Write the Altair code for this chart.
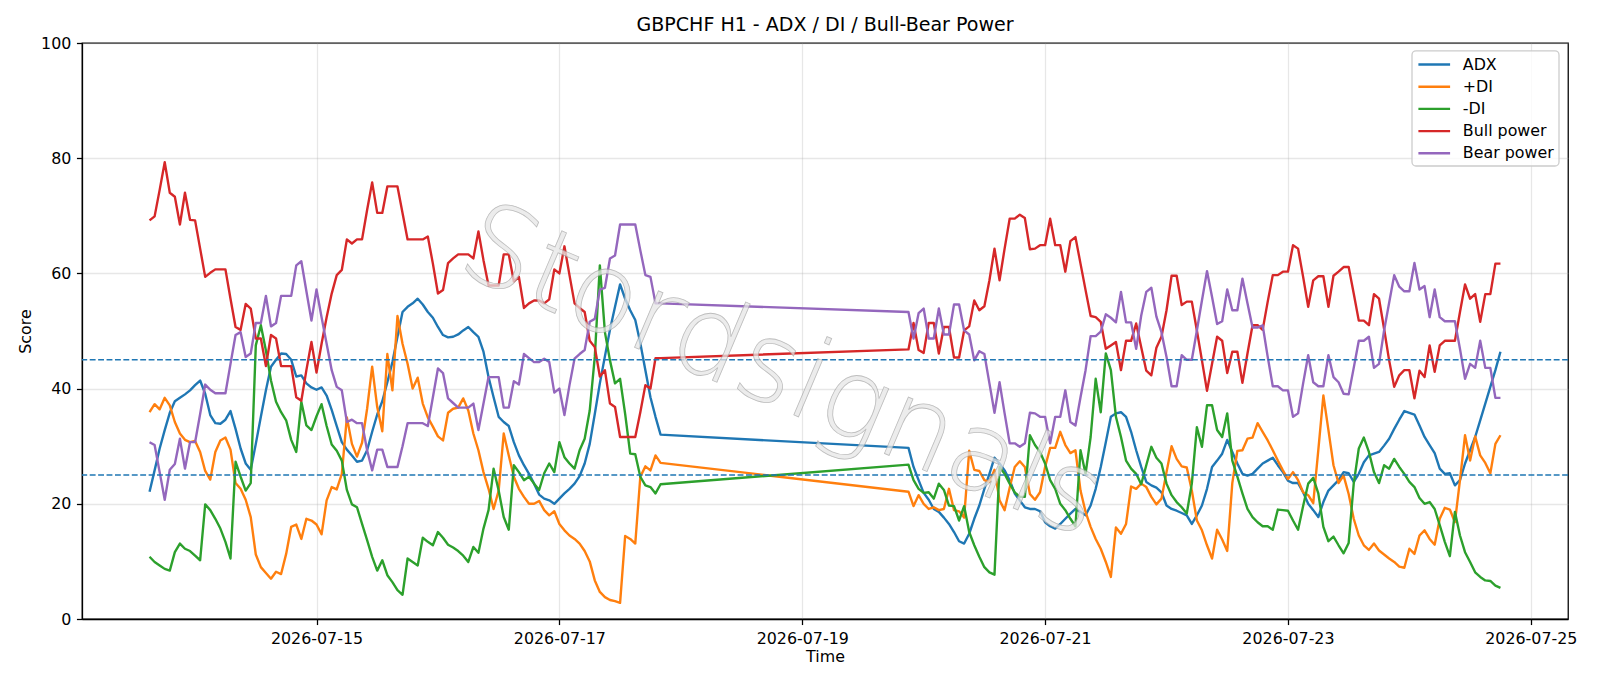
import altair as alt
import pandas as pd

SERIES = ["ADX", "+DI", "-DI", "Bull power", "Bear power"]
COLORS = ["#1f77b4", "#ff7f0e", "#2ca02c", "#d62728", "#9467bd"]

# Hourly bars, Mon 13 Jul 15:00 -> Fri 17 Jul 20:00
adx_wk1 = [
    22.1, 25.8, 29.6, 32.8, 35.8, 37.8, 38.4, 39.0, 39.7, 40.6,
    41.4, 39.1, 35.4, 34.0, 33.9, 34.6, 36.1, 33.0, 29.6, 27.0,
    25.9, 30.4, 35.1, 39.7, 43.8, 45.0, 46.1, 46.0, 45.0, 42.1,
    42.3, 40.9, 40.2, 39.8, 40.2, 38.8, 36.3, 33.5, 30.7, 29.4,
    28.4, 27.3, 27.5, 29.3, 32.5, 35.5, 37.8, 41.1, 44.6, 49.0,
    53.3, 54.2, 54.8, 55.6, 54.6, 53.3, 52.3, 50.7, 49.3, 48.9,
    49.0, 49.4, 50.1, 50.7, 49.8, 49.0, 46.4, 42.0, 38.5, 35.1,
    34.2, 33.5, 30.7, 28.4, 26.7, 25.2, 23.5, 21.6, 20.9, 20.6,
    20.0, 20.9, 21.8, 22.6, 23.5, 24.8, 27.0, 30.4, 35.6, 40.9,
    45.6, 50.2, 54.2, 58.1, 55.6, 53.6, 51.9, 47.9, 43.2, 38.5,
    35.1, 32.0,
]
plus_di_wk1 = [
    35.9, 37.3, 36.4, 38.4, 37.1, 34.2, 32.2, 31.1, 30.7, 30.9,
    29.0, 25.7, 24.2, 29.0, 31.0, 31.5, 29.4, 23.6, 22.6, 20.7,
    17.7, 11.2, 9.0, 8.0, 7.0, 8.2, 7.8, 11.3, 16.0, 16.4,
    13.9, 17.4, 17.1, 16.4, 14.7, 20.6, 22.9, 22.5, 25.2, 35.0,
    30.4, 28.2, 30.6, 36.5, 43.8, 36.8, 32.6, 46.0, 39.7, 52.6,
    47.8, 44.3, 40.0, 41.9, 37.4, 35.0, 33.4, 31.7, 31.0, 35.8,
    36.5, 36.7, 38.3, 36.2, 32.2, 29.3, 25.5, 22.6, 19.1, 22.3,
    32.2, 28.4, 24.7, 22.6, 21.2, 20.0, 20.0, 20.5, 18.9, 18.0,
    18.7, 16.5, 15.4, 14.5, 13.9, 13.1, 11.8, 10.0, 6.7, 4.7,
    3.8, 3.3, 3.1, 2.8, 14.4, 13.9, 13.1, 24.7, 26.5, 25.8,
    28.4, 27.1,
]
minus_di_wk1 = [
    10.8, 9.9, 9.3, 8.7, 8.4, 11.6, 13.1, 12.2, 11.8, 11.0,
    10.2, 19.9, 18.9, 17.4, 15.7, 13.4, 10.5, 27.3, 24.7, 22.3,
    23.6, 47.5, 51.0, 46.6, 41.4, 37.7, 35.9, 34.5, 31.1, 29.0,
    37.7, 33.6, 32.8, 35.2, 37.3, 33.5, 30.3, 29.2, 27.5, 22.4,
    19.9, 19.4, 16.5, 13.7, 10.8, 8.4, 10.2, 7.6, 6.4, 5.0,
    4.2, 10.5, 9.9, 9.3, 14.1, 13.4, 12.8, 15.1, 14.1, 12.9,
    12.4, 11.8, 11.0, 9.9, 12.5, 11.5, 15.7, 18.9, 26.1, 22.3,
    17.7, 15.5, 26.7, 25.5, 24.1, 24.7, 23.5, 22.4, 25.3, 27.0,
    25.5, 30.7, 28.1, 27.0, 26.1, 29.3, 31.3, 36.2, 45.5, 61.4,
    49.8, 44.9, 40.9, 41.7, 35.6, 28.7, 28.6, 24.7, 23.2, 22.9,
    21.8, 23.4,
]
bull_wk1 = [
    69.2, 69.9, 74.5, 79.3, 74.0, 73.3, 68.5, 74.0, 69.3, 69.2,
    64.3, 59.4, 60.1, 60.7, 60.7, 60.7, 55.6, 50.7, 50.2, 54.7,
    53.9, 48.7, 48.7, 43.9, 49.3, 48.7, 43.9, 43.9, 43.9, 38.5,
    37.9, 43.2, 48.1, 42.8, 47.8, 52.4, 56.5, 59.7, 60.6, 65.9,
    65.2, 65.9, 65.9, 71.0, 75.8, 70.5, 70.5, 75.1, 75.1, 75.1,
    70.5, 65.9, 65.9, 65.9, 65.9, 66.4, 61.7, 56.5, 57.1, 61.8,
    62.6, 63.3, 63.3, 63.3, 62.6, 67.3, 62.3, 57.9, 57.9, 57.9,
    63.3, 63.3, 58.6, 59.4, 54.0, 54.8, 55.3, 55.3, 54.8, 55.5,
    60.7, 60.0, 64.7, 59.7, 54.8, 54.0, 53.3, 48.3, 47.2, 42.1,
    43.2, 37.4, 36.8, 31.6, 31.6, 31.6, 31.6, 35.9, 40.6, 40.0,
    45.3, 45.3,
]
bear_wk1 = [
    30.7, 30.2, 25.5, 20.7, 25.9, 26.9, 31.3, 26.1, 30.7, 30.7,
    35.6, 40.7, 39.8, 39.2, 39.2, 39.2, 44.3, 49.3, 49.8, 45.5,
    46.1, 51.4, 51.4, 56.1, 50.8, 51.4, 56.1, 56.1, 56.1, 61.4,
    62.1, 56.9, 51.8, 57.2, 52.4, 47.8, 43.2, 40.3, 39.7, 34.2,
    34.6, 34.0, 34.0, 29.3, 25.8, 29.4, 29.4, 26.4, 26.4, 26.4,
    30.0, 34.0, 34.0, 34.0, 34.0, 33.5, 38.5, 43.5, 42.7, 38.3,
    37.5, 36.7, 36.7, 36.7, 37.4, 32.8, 37.4, 42.0, 42.0, 42.0,
    36.7, 36.7, 41.3, 40.7, 46.0, 45.3, 44.6, 44.6, 45.2, 44.6,
    39.3, 40.0, 35.4, 40.6, 45.2, 46.0, 46.7, 51.6, 52.1, 57.2,
    57.5, 62.6, 63.1, 68.5, 68.5, 68.5, 68.5, 64.0, 59.7, 59.4,
    54.8, 54.8,
]

# Hourly bars, Sun 19 Jul 21:00 -> Fri 24 Jul 18:00
adx_wk2 = [
    29.7, 26.4, 24.1, 21.9, 20.7, 19.1, 18.6, 17.6, 16.5, 15.1,
    13.5, 13.1, 14.8, 17.4, 19.7, 22.6, 25.2, 28.0, 27.0, 25.8,
    24.1, 21.8, 20.6, 19.4, 19.1, 19.1, 18.7, 16.8, 16.1, 15.7,
    16.5, 17.4, 18.3, 19.1, 18.6, 18.0, 19.7, 22.6, 26.4, 30.7,
    35.1, 35.7, 35.9, 35.1, 32.5, 29.3, 26.4, 23.8, 23.2, 22.8,
    22.0, 19.7, 19.1, 18.8, 18.4, 18.0, 16.5, 18.0, 19.7, 22.6,
    26.4, 27.5, 28.7, 31.1, 29.0, 27.0, 25.2, 24.9, 25.2, 26.1,
    27.0, 27.5, 28.0, 26.7, 25.5, 24.0, 23.6, 23.6, 22.0, 20.0,
    18.9, 17.7, 20.3, 22.3, 23.2, 24.1, 25.5, 25.3, 23.8, 25.2,
    27.2, 28.4, 28.7, 29.0, 30.1, 31.3, 33.0, 34.6, 36.1, 35.8,
    35.5, 33.6, 31.6, 30.2, 28.8, 26.1, 25.2, 25.3, 23.2, 24.1,
    27.0, 29.3, 31.6, 34.5, 37.4, 40.3, 43.2, 46.4,
]
plus_di_wk2 = [
    22.1, 19.6, 21.5, 20.0, 19.1, 19.4, 18.9, 19.1, 22.6, 18.9,
    18.7, 17.6, 29.2, 25.9, 25.7, 24.1, 23.8, 25.9, 20.6, 18.9,
    22.8, 26.4, 27.4, 26.4, 21.7, 20.7, 22.0, 26.4, 29.7, 29.7,
    32.5, 30.2, 28.8, 29.3, 22.3, 18.6, 16.0, 13.9, 12.2, 9.9,
    7.3, 15.9, 14.8, 16.5, 23.0, 22.6, 23.5, 22.9, 21.2, 19.9,
    20.9, 25.5, 30.0, 27.8, 26.5, 26.3, 22.3, 17.1, 15.4, 12.8,
    10.5, 15.5, 13.8, 11.8, 23.6, 29.2, 29.3, 31.3, 31.5, 34.0,
    32.5, 31.0, 29.3, 27.5, 25.8, 24.3, 25.5, 24.1, 22.0, 21.5,
    20.1, 29.3, 38.8, 32.8, 26.7, 23.6, 24.9, 21.7, 17.4, 14.5,
    12.8, 12.0, 13.1, 11.9, 11.2, 10.5, 9.9, 9.1, 8.9, 12.2,
    11.3, 14.5, 15.4, 13.9, 12.9, 17.4, 19.3, 19.0, 16.8, 24.1,
    31.9, 27.5, 31.7, 28.4, 27.1, 25.3, 30.4, 31.9,
]
minus_di_wk2 = [
    26.8, 24.1, 22.6, 21.9, 22.0, 20.9, 23.5, 22.4, 19.7, 19.6,
    17.1, 19.6, 15.1, 12.8, 10.8, 9.0, 8.1, 7.7, 26.4, 25.2,
    23.5, 22.0, 21.2, 21.2, 31.9, 30.2, 29.0, 27.0, 24.1, 22.6,
    20.0, 18.9, 17.4, 16.1, 29.3, 25.2, 31.6, 41.7, 35.9, 46.1,
    43.2, 35.1, 31.6, 27.5, 26.1, 25.2, 23.4, 26.7, 29.9, 28.0,
    27.0, 23.5, 21.5, 20.3, 19.4, 18.3, 23.5, 33.3, 29.9, 37.1,
    37.1, 32.8, 31.6, 35.7, 27.5, 24.7, 21.8, 19.1, 17.7, 16.8,
    16.1, 16.1, 15.5, 19.0, 18.9, 18.8, 17.1, 15.5, 19.6, 23.5,
    24.5, 21.8, 16.0, 13.5, 14.3, 12.8, 11.4, 13.2, 23.5, 29.6,
    31.5, 29.0, 25.5, 23.6, 26.7, 26.1, 27.8, 26.4, 25.2, 23.8,
    22.9, 21.0, 20.0, 20.3, 19.1, 16.3, 13.4, 10.9, 18.6, 14.5,
    11.6, 9.9, 8.1, 7.3, 6.7, 6.6, 5.8, 5.4,
]
bull_wk2 = [
    46.8, 51.4, 46.7, 46.2, 51.4, 51.4, 46.1, 50.7, 50.7, 45.4,
    45.4, 50.1, 50.8, 55.3, 53.6, 54.3, 58.8, 64.3, 58.8, 64.3,
    69.5, 69.5, 70.2, 69.6, 64.2, 64.3, 64.9, 64.9, 69.5, 64.9,
    64.9, 60.3, 65.6, 66.3, 61.7, 57.1, 52.6, 52.4, 51.6, 46.9,
    47.5, 48.1, 43.2, 48.3, 48.3, 51.3, 47.2, 43.1, 42.3, 47.1,
    49.0, 53.6, 59.6, 59.6, 54.5, 55.1, 55.1, 50.1, 44.9, 39.6,
    44.3, 49.0, 48.3, 42.7, 46.4, 46.4, 41.0, 46.1, 51.0, 51.0,
    50.2, 55.1, 59.7, 59.7, 60.3, 60.3, 64.9, 64.3, 59.4, 54.2,
    58.8, 59.5, 59.5, 54.2, 59.6, 60.3, 61.1, 61.1, 56.5, 51.8,
    51.8, 51.0, 56.4, 55.6, 50.4, 44.9, 40.3, 42.3, 43.2, 43.2,
    38.3, 43.1, 42.0, 47.5, 42.9, 47.5, 48.3, 48.3, 48.3, 53.3,
    58.1, 55.6, 56.4, 51.6, 56.4, 56.4, 61.7, 61.7,
]
bear_wk2 = [
    53.3, 48.7, 53.1, 53.9, 48.7, 48.7, 53.9, 49.4, 49.4, 54.6,
    54.6, 50.1, 49.4, 44.9, 46.5, 46.0, 40.9, 35.8, 41.1, 35.7,
    30.5, 30.5, 29.9, 30.5, 35.8, 35.7, 35.1, 35.1, 30.5, 35.1,
    35.1, 39.7, 34.2, 33.6, 38.5, 43.2, 49.1, 49.1, 49.9, 52.9,
    52.3, 51.5, 56.8, 51.5, 51.5, 46.9, 52.7, 56.8, 57.5, 52.5,
    49.8, 45.5, 40.4, 40.4, 45.8, 45.0, 45.0, 50.1, 55.3, 60.4,
    55.9, 51.2, 51.7, 57.2, 53.6, 53.6, 59.1, 54.8, 50.6, 50.6,
    51.0, 45.5, 40.4, 40.4, 39.7, 39.7, 35.1, 35.7, 40.9, 45.8,
    41.1, 40.4, 40.4, 45.8, 42.0, 41.1, 39.1, 39.0, 43.6, 48.3,
    48.3, 49.0, 43.6, 44.3, 50.1, 54.9, 59.7, 57.7, 56.9, 56.9,
    61.8, 57.2, 57.8, 52.4, 57.2, 52.4, 51.7, 51.7, 51.7, 46.9,
    41.7, 44.3, 43.6, 48.3, 43.6, 43.6, 38.4, 38.4,
]

LEVELS = [45, 25]
TITLE = "GBPCHF H1 - ADX / DI / Bull-Bear Power"
FONT = "DejaVu Sans"
PT = 1.5875  # pixels per point at this figure size

wk1 = [adx_wk1, plus_di_wk1, minus_di_wk1, bull_wk1, bear_wk1]
wk2 = [adx_wk2, plus_di_wk2, minus_di_wk2, bull_wk2, bear_wk2]

t1 = pd.date_range("2026-07-13 15:00", periods=len(adx_wk1), freq="h")
t2 = pd.date_range("2026-07-19 21:00", periods=len(adx_wk2), freq="h")
stamps = [t.strftime("%Y-%m-%dT%H:%M:%S") for t in list(t1) + list(t2)]

rows = []
for name, a, b in zip(SERIES, wk1, wk2):
    for ts, v in zip(stamps, a + b):
        rows.append({"time": ts, "value": v, "series": name})
df = pd.DataFrame(rows)
levels = pd.DataFrame({"level": LEVELS})
title_df = pd.DataFrame({"label": [TITLE]})
legend_df = pd.DataFrame({"series": SERIES, "row": list(range(len(SERIES)))})

W, H = 1486, 576
color_scale = alt.Scale(domain=SERIES, range=COLORS)

x_domain = [
    alt.DateTime(year=2026, month=7, date=13, hours=1, minutes=39),
    alt.DateTime(year=2026, month=7, date=25, hours=7, minutes=21),
]
x_ticks = [alt.DateTime(year=2026, month=7, date=d) for d in (15, 17, 19, 21, 23, 25)]

lines = alt.Chart(df).mark_line(strokeWidth=1.5 * PT, strokeJoin="round", clip=True).encode(
    x=alt.X(
        "time:T",
        scale=alt.Scale(domain=x_domain),
        axis=alt.Axis(
            values=x_ticks, format="%Y-%m-%d", labelAngle=0, title="Time",
            tickSize=3.5 * PT, labelPadding=3.5 * PT, titlePadding=3,
        ),
    ),
    y=alt.Y(
        "value:Q",
        scale=alt.Scale(domain=[0, 100], nice=False),
        axis=alt.Axis(
            values=[0, 20, 40, 60, 80, 100], title="Score",
            tickSize=3.5 * PT, labelPadding=3.5 * PT, titlePadding=7,
        ),
    ),
    color=alt.Color("series:N", scale=color_scale, legend=None),
)

guides = alt.Chart(levels).mark_rule(
    color="#1f77b4", strokeWidth=1.0 * PT, strokeDash=[3.7 * PT, 1.6 * PT]
).encode(y="level:Q")

watermark = alt.Chart(title_df).mark_text(
    text="Stordsignals", angle=23, fontSize=112, font=FONT, fontWeight=200,
    color="#e6e6e6", stroke="#a8a8a8", strokeWidth=0.8, opacity=0.75,
    align="center", baseline="middle",
).encode(x=alt.value(700), y=alt.value(330))

title = alt.Chart(title_df).mark_text(
    fontSize=12 * PT, font=FONT, color="black", align="center", baseline="alphabetic",
).encode(text="label:N", x=alt.value(W / 2), y=alt.value(-12))

# legend box in the upper right corner of the axes
legend_box = alt.Chart(title_df).mark_rect(
    fill="white", fillOpacity=0.8, stroke="#cccccc", strokeWidth=0.8 * PT, cornerRadius=4,
).encode(x=alt.value(1330), x2=alt.value(1477), y=alt.value(7.9), y2=alt.value(123))

legend_rows = alt.Chart(legend_df).transform_calculate(ly="21.5 + datum.row * 22.2")

legend_handles = legend_rows.mark_rule(strokeWidth=1.5 * PT).encode(
    x=alt.value(1336.4),
    x2=alt.value(1368.1),
    y=alt.Y("ly:Q", scale=None, axis=None),
    color=alt.Color("series:N", scale=color_scale, legend=None),
)

legend_labels = legend_rows.mark_text(
    align="left", baseline="middle", fontSize=10 * PT, font=FONT, color="black",
).encode(
    x=alt.value(1380.8),
    y=alt.Y("ly:Q", scale=None, axis=None),
    text="series:N",
)

chart = (
    alt.layer(lines, guides, watermark, title, legend_box, legend_handles, legend_labels)
    .properties(
        width=W,
        height=H,
        padding={"left": 82, "top": 43, "right": 32, "bottom": 67},
        autosize=alt.AutoSizeParams(type="none"),
    )
    .configure(font=FONT, background="white")
    .configure_view(stroke="black", strokeWidth=0.8 * PT)
    .configure_axis(
        labelFont=FONT, titleFont=FONT, labelFontSize=10 * PT, titleFontSize=10 * PT,
        titleFontWeight="normal", labelColor="black", titleColor="black",
        domainColor="black", domainWidth=0.8 * PT, tickColor="black", tickWidth=0.8 * PT,
        gridColor="#b0b0b0", gridOpacity=0.3, gridWidth=0.8 * PT,
    )
)

chart.save("out.html", embed_options={"renderer": "svg", "actions": False})
